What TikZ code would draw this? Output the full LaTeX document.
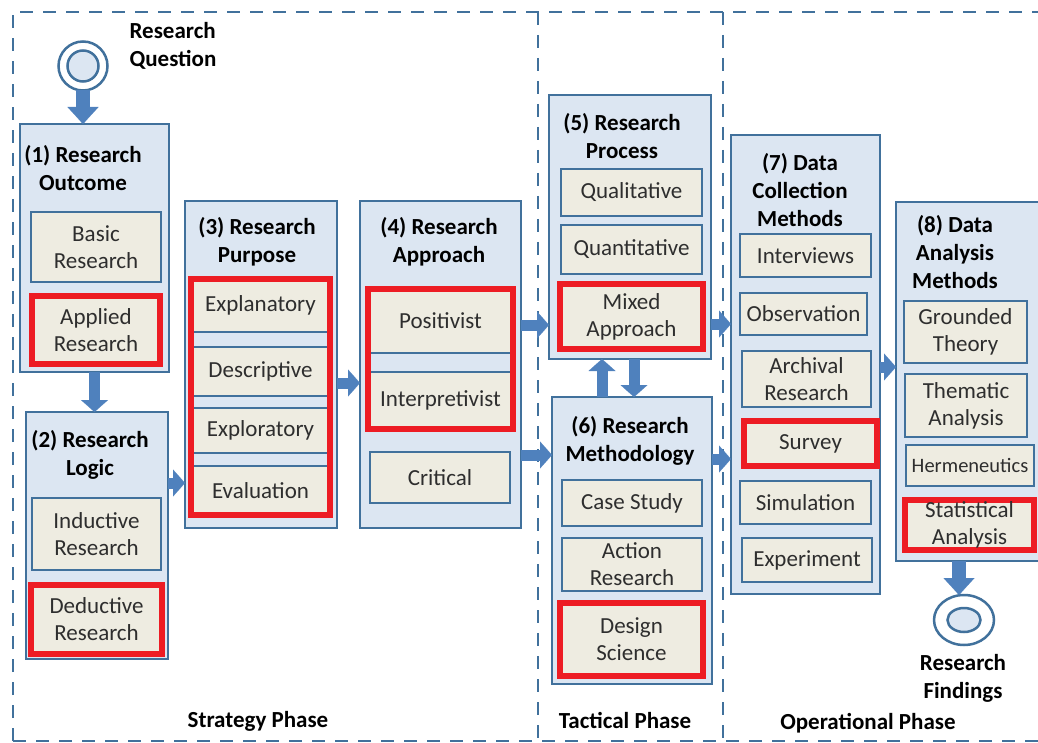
\documentclass[tikz,border=0pt]{standalone}
\usepackage{fontspec}
\setmainfont{Carlito}
\usetikzlibrary{positioning,arrows.meta,fit,shapes.geometric}

\definecolor{boxblue}{HTML}{DCE6F2}
\definecolor{edgeblue}{HTML}{41719C}
\definecolor{itemtan}{HTML}{EEECE1}
\definecolor{markred}{HTML}{ED1C24}
\definecolor{flowblue}{HTML}{4F81BD}

\begin{document}
\begin{tikzpicture}[x=1pt,y=-1pt,
    every node/.style={inner sep=0pt, outer sep=0pt, align=center, font=\fontsize{23}{27}\selectfont, text=black!82},
    phasebox/.style={rectangle, draw=edgeblue, fill=boxblue, line width=2.5pt},
    itembox/.style={rectangle, draw=edgeblue, fill=itemtan, line width=2.5pt},
    pickbox/.style={rectangle, draw=markred, fill=itemtan, line width=6pt},
    redbox/.style={rectangle, draw=markred, line width=6pt, fit=#1},
    title/.style={font=\bfseries\fontsize{23}{28}\selectfont, text=black},
    frame/.style={draw=edgeblue, line width=2.5pt, dash pattern=on 13pt off 10pt},
    flow/.style={draw=flowblue, line width=11pt, -{Triangle[length=12pt,width=27pt,line width=0.1pt]}},
    bigflow/.style={draw=flowblue, line width=14pt, -{Triangle[length=17pt,width=31pt,line width=0.1pt]}},
  ]
    \useasboundingbox (0,0) rectangle (1038,743);
    \clip (0,0) rectangle (1038,743);
    % phases
    \draw[frame] (13,741) -- (13,12) -- (1050,12);
    \draw[frame] (13,741) -- (1050,741);
    \draw[frame] (538,12) -- (538,741);
    \draw[frame] (723,12) -- (723,741);
    \node[title] (strat) at (258,721) {Strategy Phase};
    \node[title] (tact)  at (625,720) {Tactical Phase};
    \node[title] (oper)  at (868,723) {Operational Phase};
    % containers
    \node[phasebox, minimum width=149pt, minimum height=248pt] (rout)  at (94.5,248)  {};
    \node[phasebox, minimum width=142pt, minimum height=247pt] (rlog)  at (97,535.5)  {};
    \node[phasebox, minimum width=152pt, minimum height=327pt] (rpur)  at (261,364.5) {};
    \node[phasebox, minimum width=161pt, minimum height=327pt] (rapp)  at (440.5,364.5) {};
    \node[phasebox, minimum width=162pt, minimum height=264pt] (rproc) at (630,227)   {};
    \node[phasebox, minimum width=160pt, minimum height=287pt] (rmeth) at (632,540.5) {};
    \node[phasebox, minimum width=149pt, minimum height=459pt] (dcoll) at (805.5,364.5) {};
    \node[phasebox, minimum width=149pt, minimum height=359pt] (dana)  at (970.5,381.5) {};
    % titles
    \node[title] (rout-t)  at (83,168)  {(1) Research\\Outcome};
    \node[title] (rlog-t)  at (90,455)  {(2) Research\\Logic};
    \node[title] (rpur-t)  at (257,242) {(3) Research\\Purpose};
    \node[title] (rapp-t)  at (439,242) {(4) Research\\Approach};
    \node[title] (rproc-t) at (622,136) {(5) Research\\Process};
    \node[title] (rmeth-t) at (630,441) {(6) Research\\Methodology};
    \node[title] (dcoll-t) at (800,190) {(7) Data\\Collection\\Methods};
    \node[title] (dana-t)  at (955,252) {(8) Data\\Analysis\\Methods};
    % (1) and (2)
    \node[itembox, minimum width=130pt, minimum height=70pt] (basic)   at (96,247)     {Basic\\Research};
    \node[pickbox, minimum width=128pt, minimum height=68pt] (applied) at (96,330)     {Applied\\Research};
    \node[itembox, minimum width=129pt, minimum height=72pt] (induct)  at (96.5,534)   {Inductive\\Research};
    \node[pickbox, minimum width=131pt, minimum height=69pt] (deduct)  at (96.5,619.5) {Deductive\\Research};
    % (3)
    \node[itembox, minimum width=139pt, minimum height=53pt] (explan) at (260.5,305.5) {Explanatory};
    \node[itembox, minimum width=139pt, minimum height=49pt] (descr)  at (260.5,371.5) {Descriptive};
    \node[itembox, minimum width=139pt, minimum height=45pt] (explor) at (260.5,430.5) {Exploratory};
    \node[itembox, minimum width=139pt, minimum height=49pt] (evalu)  at (260.5,490.5) {Evaluation};
    \node[redbox={(explan)(evalu)}] (purpick) {};
    % (4)
    \node[itembox, minimum width=145pt, minimum height=64pt] (posit)  at (440.5,321)   {Positivist};
    \node[itembox, minimum width=145pt, minimum height=57pt] (interp) at (440.5,400.5) {Interpretivist};
    \node[redbox={(posit)(interp)}] (apppick) {};
    \node[itembox, minimum width=140pt, minimum height=51pt] (crit)   at (440,477.5)   {Critical};
    % (5) and (6)
    \node[itembox, minimum width=141pt, minimum height=47pt] (qual)   at (631.5,192.5) {Qualitative};
    \node[itembox, minimum width=141pt, minimum height=49pt] (quant)  at (631.5,249.5) {Quantitative};
    \node[pickbox, minimum width=143pt, minimum height=65pt] (mixed)  at (631.5,316.5) {Mixed\\Approach};
    \node[itembox, minimum width=140pt, minimum height=46pt] (cases)  at (632,503)     {Case Study};
    \node[itembox, minimum width=140pt, minimum height=53pt] (action) at (632,564.5)   {Action\\Research};
    \node[pickbox, minimum width=143pt, minimum height=73pt] (design) at (631.5,639.5) {Design\\Science};
    % (7)
    \node[itembox, minimum width=131pt, minimum height=43pt] (interv) at (805.5,255.5) {Interviews};
    \node[itembox, minimum width=127pt, minimum height=42pt] (observ) at (803.5,314)   {Observation};
    \node[itembox, minimum width=129pt, minimum height=56pt] (archiv) at (806.5,379)   {Archival\\Research};
    \node[pickbox, minimum width=133pt, minimum height=45pt] (survey) at (810.5,443.5) {Survey};
    \node[itembox, minimum width=131pt, minimum height=43pt] (simul)  at (805.5,502.5) {Simulation};
    \node[itembox, minimum width=130pt, minimum height=44pt] (exper)  at (807,560)     {Experiment};
    % (8)
    \node[itembox, minimum width=123pt, minimum height=62pt] (ground) at (965.5,332)   {Grounded\\Theory};
    \node[itembox, minimum width=122pt, minimum height=63pt] (themat) at (966,405.5)   {Thematic\\Analysis};
    \node[itembox, minimum width=128pt, minimum height=41pt, font=\fontsize{20.5}{27}\selectfont] (hermen) at (970,465.5) {Hermeneutics};
    \node[pickbox, minimum width=129pt, minimum height=50pt] (statis) at (969.5,525)   {Statistical\\Analysis};
    % start and end
    \node[circle, draw=edgeblue, fill=white, line width=2.5pt, minimum size=49pt] (rq) at (83,66) {};
    \node[circle, draw=edgeblue, fill=boxblue, line width=2.5pt, minimum size=31pt] (rq-in) at (rq) {};
    \node[title, align=left] (rq-t) at (173,46) {Research\\Question};
    \node[ellipse, draw=edgeblue, fill=white, line width=2.5pt, minimum width=60pt, minimum height=50pt] (fin) at (964,620) {};
    \node[ellipse, draw=edgeblue, fill=boxblue, line width=2.5pt, minimum width=33pt, minimum height=24pt] (fin-in) at (fin) {};
    \node[title] (fin-t) at (963,678) {Research\\Findings};
    % arrows
    \draw[bigflow] (rq.south) -- (rq.south |- rout.north);
    \draw[flow] (rout.south) -- (rout.south |- rlog.north);
    \draw[flow] (rlog.east |- 0,483) -- (rpur.west |- 0,483);
    \draw[flow] (rpur.east |- 0,383) -- (rapp.west |- 0,383);
    \draw[flow] (rapp.east |- 0,325) -- (rproc.west |- 0,325);
    \draw[flow] (rapp.east |- 0,455) -- (rmeth.west |- 0,455);
    \draw[flow] (rproc.east |- 0,324) -- (dcoll.west |- 0,324);
    \draw[flow] (rmeth.east |- 0,459) -- (dcoll.west |- 0,459);
    \draw[flow] (rmeth.north -| 602,0) -- (rproc.south -| 602,0);
    \draw[flow] (rproc.south -| 634,0) -- (rmeth.north -| 634,0);
    \draw[flow] (dcoll.east |- 0,367) -- (dana.west |- 0,367);
    \draw[bigflow] (dana.south -| 959,0) -- (fin.north -| 959,0);
\end{tikzpicture}
\end{document}
